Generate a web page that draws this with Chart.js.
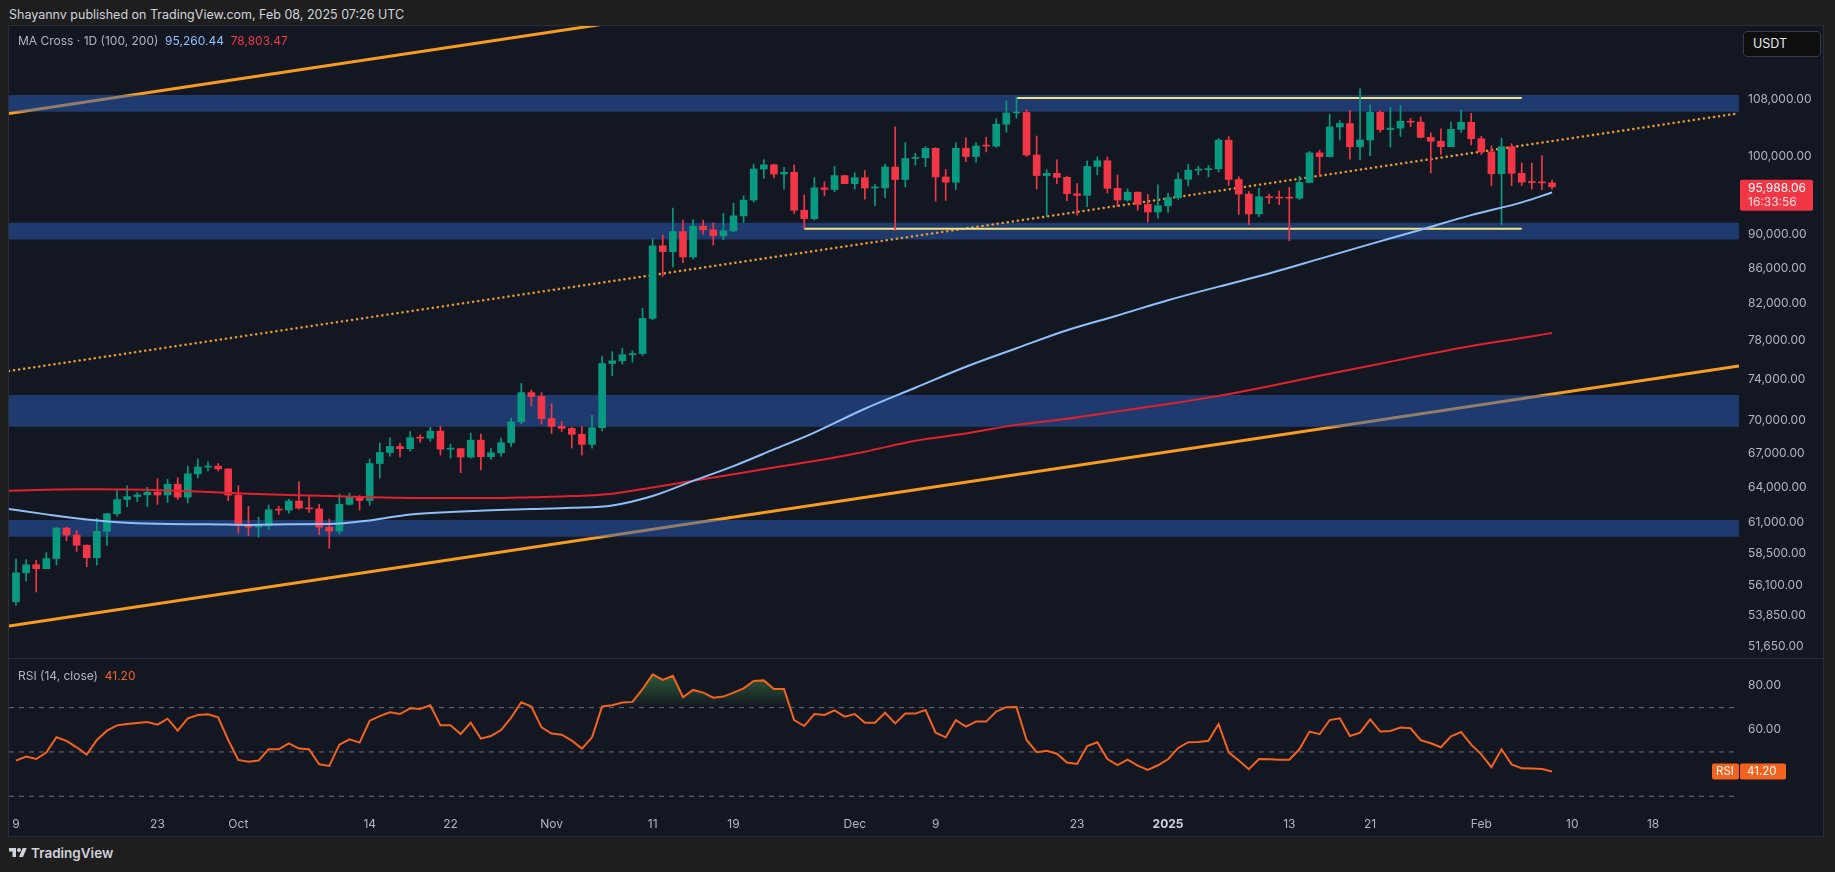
<!DOCTYPE html>
<html lang="en">
<head>
<meta charset="UTF-8">
<title>BTCUSDT 1D - MA Cross and RSI</title>
<script src="https://cdnjs.cloudflare.com/ajax/libs/Chart.js/4.4.1/chart.umd.min.js"></script>
<style>
  html, body { margin: 0; padding: 0; }
  body { width: 1835px; height: 872px; background: #1e1e1e; position: relative; overflow: hidden; font-family: Inter, Roboto, sans-serif; }
  .abs { position: absolute; }
  #header { left: 9px; top: 6px; font-size: 12.5px; line-height: 18px; color: #d1d4dc; }
  #panel { left: 9px; top: 26px; width: 1814px; height: 810px; background: #131722; box-shadow: 0 0 0 1px #2a2e39; }
  #priceCanvas { left: 9px; top: 26px; }
  #sep { left: 9px; top: 658px; width: 1814px; height: 1px; background: #2a2e39; }
  #rsiCanvas { left: 9px; top: 660px; }
  .legend { font-size: 12px; line-height: 16px; color: #b2b5be; white-space: pre; }
  #maLegend { left: 18px; top: 33px; }
  #rsiLegend { left: 18px; top: 668px; }
  #usdt { left: 1743px; top: 31px; width: 78px; height: 26px; box-sizing: border-box; border: 1px solid #363a45; border-radius: 4px; background: #0f0f10; color: #e6e8ee; font-size: 12.5px; line-height: 24px; padding-left: 9px; }
  #logo { left: 9px; top: 845px; display: flex; align-items: center; gap: 4px; color: #d1d4dc; font-size: 13.5px; font-weight: 600; }
</style>
</head>
<body>
  <div id="header" class="abs">Shayannv published on TradingView.com, Feb 08, 2025 07:26 UTC</div>
  <div id="panel" class="abs"></div>
  <canvas id="priceCanvas" class="abs" width="1814" height="632"></canvas>
  <div id="sep" class="abs"></div>
  <canvas id="rsiCanvas" class="abs" width="1814" height="176"></canvas>
  <div id="maLegend" class="abs legend"></div>
  <div id="rsiLegend" class="abs legend"></div>
  <div id="usdt" class="abs">USDT</div>
  <div id="logo" class="abs">
    <svg width="18" height="14" viewBox="0 0 36 28"><path d="M14 22H7V11H0V4h14v18zM28 22h-8l7.5-18h8L28 22z" fill="#d1d4dc"/><circle cx="20" cy="8" r="4" fill="#d1d4dc"/></svg>
    <span>TradingView</span>
  </div>

<script>
// daily candles, Sep 9 2024 (index 0) .. Feb 8 2025 (index 152): [open, high, low, close]
const ohlc = [
  [54841,58088,54591,57019],[57020,58041,56386,57648],[57650,57995,55567,57343],[57343,58588,57324,58128],
  [58128,60625,57632,60571],[60571,60656,59538,60005],[60005,60381,58697,59182],[59182,59210,57493,58192],
  [58192,61366,57610,60309],[60309,61787,59175,61759],[61759,63850,61555,62947],[62947,64133,62350,63201],
  [63201,63559,62758,63348],[63348,64000,62357,63578],[63578,64745,62538,63339],[63339,64688,62700,64262],
  [64262,64817,62947,63152],[63152,65839,62670,65173],[65173,66498,64819,65769],[65769,66260,65422,65858],
  [65858,66076,65432,65602],[65602,65618,62856,63327],
  // Oct
  [63327,64130,60164,60805],[60805,62370,59981,60649],[60649,61469,59828,60753],[60753,62484,60460,62086],
  [62086,62370,61689,62058],[62058,62975,61798,62819],[62819,64478,62128,62224],[62224,63200,61860,62160],
  [62160,62543,60046,60636],[60636,61321,58946,60326],[60326,63417,60087,62540],[62540,63480,62487,63206],
  [63206,63285,62050,62870],[62870,66500,62457,66083],[66083,67950,64800,67074],[67074,68424,66750,67620],
  [67620,67939,66666,67421],[67421,69000,67192,68428],[68428,68693,68010,68378],[68378,69400,68100,69031],
  [69031,69519,66840,67377],[67377,67836,66571,67426],[67426,67472,65260,66668],[66668,68850,66559,68198],
  [68198,68771,65521,66698],[66698,67454,66439,67047],[67047,68380,66751,67967],[67967,70270,67618,69907],
  [69907,73620,69730,72720],[72720,72961,71436,72340],[72340,72700,69686,70216],
  // Nov
  [70216,71632,68820,69482],[69482,69934,69000,69289],[69289,69390,67478,68741],[68741,69450,66835,67811],
  [67811,70522,67459,69359],[69359,76400,69058,75639],[75639,76850,74416,75905],[75905,77200,75560,76538],
  [76538,76932,75774,76649],[76649,81500,76460,80370],[80370,89530,80216,88648],[88648,89940,85072,87952],
  [87952,93265,86127,90375],[90375,91790,86668,87326],[87326,91850,87073,91032],[91032,91779,90056,90586],
  [90586,91449,88722,89855],[89855,92594,89376,90465],[90465,93905,90357,92310],[92310,94831,91500,94286],
  [94286,98988,94040,98317],[98317,99588,97122,98892],[98892,99000,97156,97672],[97672,98564,95734,97900],
  [97900,98871,92600,93010],[93010,94973,90791,91965],[91965,97208,91792,95863],[95863,96650,94827,95643],
  [95643,98694,95366,97460],[97460,97499,96400,96407],
  // Dec
  [96407,97836,95693,97185],[97185,98130,94395,95840],[95840,96305,93578,95849],[95849,99000,94587,98587],
  [98587,104088,90500,96945],[96945,101898,95981,99740],[99740,100439,98844,99831],[99831,101351,98657,101109],
  [101109,101215,94150,97276],[97276,98270,94256,96593],[96593,101888,95658,101125],[101125,102540,99311,100004],
  [100004,101895,99205,101424],[101424,102650,100609,101420],[101420,105250,101237,104463],[104463,107793,103333,106058],
  [106058,108353,105321,106133],[106133,106524,100000,100204],[100204,102800,95700,97462],[97462,98233,92232,97755],
  [97755,99540,96398,97224],[97224,97400,94202,95104],[95104,96416,92403,94884],[94884,99404,93448,98676],
  [98676,99963,97593,99429],[99429,99963,95199,95792],[95792,97544,93500,94299],[94299,95733,94136,95300],
  [95300,95340,93009,93738],[93738,95024,91530,92792],[92792,96250,92033,93576],
  // Jan
  [93576,95151,92743,94591],[94591,97839,94392,96984],[96984,98976,96100,98174],[98174,98734,97562,98236],
  [98236,98813,97291,98363],[98363,102480,97920,102235],[102235,102724,96181,96954],[96954,97307,92500,95060],
  [95060,95382,91203,92552],[92552,95837,92206,94726],[94726,95050,93831,94599],[94599,95450,93712,94545],
  [94545,95940,89256,94536],[94536,97371,94346,96560],[96560,100681,96500,100497],[100497,100866,97335,99987],
  [99987,105865,99950,104077],[104077,104988,102277,104556],[104556,106422,99651,101331],[101331,109588,99550,102260],
  [102260,107240,100119,106143],[106143,106394,103339,103706],[103706,106850,101262,103910],[103910,107120,102750,104870],
  [104870,105286,104106,104746],[104746,105500,102520,102620],[102620,103260,97777,102082],[102082,103800,100272,101335],
  [101335,104782,101328,103734],[103734,106457,103321,104722],[104722,106012,101560,102429],
  // Feb
  [102429,102783,100279,100635],[100635,101456,96150,97700],[97700,102500,91231,101328],[101328,101744,96150,97763],
  [97763,99149,96155,96612],[96612,99120,95676,96554],[96554,100137,95620,96506],[96506,96880,95688,95988.06]
];

// moving averages at these day indexes
const maDays = [-1, 3, 7, 11, 15, 19, 23, 27, 31, 35, 39, 43, 47, 51, 55, 59, 63, 67, 71, 75, 79, 84, 89, 94, 99, 104, 109, 114, 119, 124, 129, 134, 139, 144, 149, 152];
const ma100 = [62180, 61700, 61280, 61000, 60900, 60890, 60830, 60890, 60900, 61200, 61700, 61900, 62040, 62140, 62250, 62450, 63250, 64550, 65850, 67350, 68900, 71150, 73200, 75300, 77200, 79100, 80700, 82370, 83900, 85400, 87100, 88850, 90600, 92400, 94000, 95260.44];
const ma200 = [63690, 63780, 63820, 63810, 63730, 63600, 63450, 63340, 63250, 63140, 63080, 63070, 63070, 63150, 63240, 63450, 63980, 64560, 65140, 65720, 66300, 67150, 68150, 68820, 69620, 70200, 70900, 71600, 72400, 73350, 74400, 75400, 76450, 77450, 78290, 78803.47];

// RSI(14), one value per candle
const rsi = [
  46.1, 47.9, 46.8, 49.7, 56.6, 55.0, 52.1, 48.8, 55.4, 59.6,
  62.0, 62.6, 63.1, 63.5, 62.3, 65.0, 59.6, 65.2, 66.7, 67.0,
  65.6, 55.4, 46.4, 45.6, 46.1, 51.2, 51.2, 53.9, 51.5, 51.2,
  44.4, 43.7, 53.3, 55.7, 54.2, 64.1, 66.2, 67.9, 67.1, 69.7,
  69.4, 71.1, 62.0, 62.0, 58.1, 63.2, 56.0, 57.2, 59.9, 65.5,
  72.4, 70.5, 61.1, 58.3, 57.8, 55.1, 51.5, 56.6, 70.5, 71.1,
  72.3, 72.6, 78.3, 85.0, 82.5, 84.4, 74.7, 78.0, 76.8, 74.5,
  75.0, 76.8, 78.7, 82.0, 82.3, 78.4, 78.4, 64.4, 61.7, 67.1,
  66.7, 68.8, 65.9, 67.1, 63.2, 63.2, 67.7, 62.9, 67.3, 67.3,
  68.9, 58.7, 56.6, 64.3, 61.4, 63.7, 63.7, 68.2, 70.2, 70.3,
  55.4, 49.9, 50.5, 49.2, 45.2, 44.6, 52.7, 54.4, 46.8, 44.1,
  46.5, 43.8, 41.9, 44.0, 46.7, 51.8, 54.4, 54.5, 55.0, 62.6,
  49.8, 46.1, 42.2, 46.8, 46.7, 46.5, 46.5, 51.2, 59.2, 58.0,
  64.4, 65.2, 57.2, 58.7, 64.7, 59.2, 59.5, 61.0, 60.7, 55.3,
  53.9, 52.1, 57.1, 59.0, 53.3, 48.9, 43.1, 51.2, 44.4, 42.6,
  42.5, 42.3, 41.2
];

// drawings: support/resistance zones [bottom, top], channel, range lines
const zones = [[106240, 108660], [89410, 91460], [69450, 72480], [59870, 61230]];
const lowerChannel = [[-0.693, 53070], [170.5, 75380]];
const upperChannel = [[-0.693, 105980], [170.5, 150530]];
const midChannel = [[-0.693, 74870], [170.5, 106010]];
const rangeTop = [[99, 108200], [149, 108200]];
const rangeBottom = [[78, 90700], [149, 90700]];

// axes
const priceTicks = [108000, 100000, 90000, 86000, 82000, 78000, 74000, 70000, 67000, 64000, 61000, 58500, 56100, 53850, 51650];
const rsiTicks = [80, 60];
const rsiLevels = [70, 50, 30];
const timeTickDays = [0, 14, 22, 35, 43, 53, 63, 71, 83, 91, 105, 114, 126, 134, 145, 154, 162];
const timeTickLabels = ['9', '23', 'Oct', '14', '22', 'Nov', '11', '19', 'Dec', '9', '23', '2025', '13', '21', 'Feb', '10', '18'];
const countdown = '16:33:56';

const xMin = -0.693, xMax = 170.5;
const upColor = '#089981', downColor = '#f23645';
const ma100Color = '#90bff9', ma200Color = '#e3202c';
const rsiColor = '#f4631e';
const rangeColor = '#f6e47a';

Chart.defaults.font.family = 'Inter, Roboto, sans-serif';
Chart.defaults.font.size = 12;

const fmt = v => v.toLocaleString('en-US', { minimumFractionDigits: 2, maximumFractionDigits: 2 });
const pts = arr => arr.map(p => ({ x: p[0], y: p[1] }));
const last = ohlc[ohlc.length - 1];

// keep label overflow from shrinking the plot area
const noPad = s => { s.paddingTop = 0; s.paddingBottom = 0; s.paddingLeft = 0; s.paddingRight = 0; };

document.getElementById('maLegend').innerHTML =
  'MA Cross · 1D (100, 200)  <span style="color:' + ma100Color + '">' + fmt(ma100[ma100.length - 1]) +
  '</span>  <span style="color:#f23645">' + fmt(ma200[ma200.length - 1]) + '</span>';
document.getElementById('rsiLegend').innerHTML =
  'RSI (14, close)  <span style="color:' + rsiColor + '">' + rsi[rsi.length - 1].toFixed(2) + '</span>';

const candleColors = ohlc.map(c => c[3] >= c[0] ? upColor : downColor);

const lineBase = { type: 'line', pointRadius: 0, tension: 0, fill: false };

const zoneSets = zones.map(z => Object.assign({}, lineBase, {
  data: pts([[xMin, z[1]], [xMax, z[1]]]),
  borderColor: 'transparent', borderWidth: 0,
  backgroundColor: 'rgba(43,93,186,0.5)',
  fill: { target: { value: z[0] } },
  order: 9
}));

const lastPriceBadge = {
  id: 'lastPriceBadge',
  afterDraw(chart) {
    const { ctx, chartArea, scales: { y } } = chart;
    const py = y.getPixelForValue(last[3]);
    const x = chartArea.right + 1;
    ctx.save();
    ctx.fillStyle = last[3] >= last[0] ? upColor : downColor;
    ctx.beginPath();
    ctx.roundRect(x, py - 7, 73, 31, 2);
    ctx.fill();
    ctx.font = '12px Inter';
    ctx.textBaseline = 'middle';
    ctx.fillStyle = '#ffffff';
    ctx.fillText(fmt(last[3]), x + 8, py + 1.5);
    ctx.fillStyle = 'rgba(255,255,255,0.85)';
    ctx.fillText(countdown, x + 8, py + 15.5);
    ctx.restore();
  }
};

new Chart(document.getElementById('priceCanvas'), {
  type: 'bar',
  data: {
    datasets: [
      Object.assign({}, lineBase, { data: pts(lowerChannel), borderColor: '#f89c1c', borderWidth: 3, order: 10 }),
      Object.assign({}, lineBase, { data: pts(upperChannel), borderColor: '#f89c1c', borderWidth: 3, order: 10 }),
      ...zoneSets,
      Object.assign({}, lineBase, { data: pts(midChannel), borderColor: '#e89a2c', borderWidth: 2.5, borderDash: [0.1, 5], borderCapStyle: 'round', order: 8 }),
      Object.assign({}, lineBase, { data: pts(rangeTop), borderColor: rangeColor, borderWidth: 2, order: 7 }),
      Object.assign({}, lineBase, { data: pts(rangeBottom), borderColor: rangeColor, borderWidth: 2, order: 7 }),
      {
        type: 'bar', data: ohlc.map((c, i) => ({ x: i, y: [c[2], c[1]] })),
        backgroundColor: candleColors, barThickness: 1, grouped: false, order: 3
      },
      {
        type: 'bar', data: ohlc.map((c, i) => ({ x: i, y: [c[0], c[3]] })),
        backgroundColor: candleColors, barThickness: 7, minBarLength: 1, grouped: false, order: 2
      },
      Object.assign({}, lineBase, { data: maDays.map((d, i) => ({ x: d, y: ma200[i] })), borderColor: ma200Color, borderWidth: 2, cubicInterpolationMode: 'monotone', order: 1 }),
      Object.assign({}, lineBase, { data: maDays.map((d, i) => ({ x: d, y: ma100[i] })), borderColor: ma100Color, borderWidth: 2, cubicInterpolationMode: 'monotone', order: 0 })
    ]
  },
  options: {
    responsive: false,
    animation: false,
    events: [],
    layout: { padding: 0, autoPadding: false },
    plugins: { legend: { display: false }, tooltip: { enabled: false } },
    scales: {
      x: { type: 'linear', min: xMin, max: xMax, offset: false, bounds: 'data', display: false },
      y: {
        type: 'logarithmic', position: 'right', min: 50830, max: 119260, bounds: 'data',
        afterBuildTicks: s => { s.ticks = priceTicks.map(v => ({ value: v })); },
        afterFit: s => { s.width = 84; noPad(s); },
        grid: { display: false, drawTicks: false },
        border: { display: false },
        ticks: { color: '#b2b5be', padding: 9, autoSkip: false, callback: v => fmt(v) }
      }
    }
  },
  plugins: [lastPriceBadge]
});

const rsiBadge = {
  id: 'rsiBadge',
  afterDraw(chart) {
    const { ctx, chartArea, scales: { y } } = chart;
    const value = rsi[rsi.length - 1];
    const py = y.getPixelForValue(value);
    const r = chartArea.right;
    ctx.save();
    ctx.fillStyle = rsiColor;
    ctx.beginPath();
    ctx.roundRect(r - 27, py - 8, 27, 16, 2);
    ctx.roundRect(r + 1, py - 8, 46, 16, 2);
    ctx.fill();
    ctx.fillStyle = '#ffffff';
    ctx.font = '11.5px Inter';
    ctx.textBaseline = 'middle';
    ctx.fillText('RSI', r - 23, py + 0.5);
    ctx.fillText(value.toFixed(2), r + 8, py + 0.5);
    ctx.restore();
  }
};

const rsiChart = new Chart(document.getElementById('rsiCanvas'), {
  type: 'line',
  data: {
    datasets: [
      {
        data: rsi.map((v, i) => ({ x: i, y: v })),
        borderColor: rsiColor, borderWidth: 2, pointRadius: 0, tension: 0,
        fill: { target: { value: 70 }, above: 'rgba(76,175,80,0.35)', below: 'rgba(0,0,0,0)' },
        order: 0
      },
      ...rsiLevels.map(v => ({
        data: [{ x: xMin, y: v }, { x: xMax, y: v }],
        borderColor: 'rgba(178,181,190,0.55)', borderWidth: 1, borderDash: [5, 5],
        pointRadius: 0, fill: false, order: 5
      }))
    ]
  },
  options: {
    responsive: false,
    animation: false,
    events: [],
    layout: { padding: 0, autoPadding: false },
    plugins: { legend: { display: false }, tooltip: { enabled: false } },
    scales: {
      x: {
        type: 'linear', min: xMin, max: xMax, offset: false, bounds: 'data',
        afterBuildTicks: s => { s.ticks = timeTickDays.map(v => ({ value: v })); },
        afterFit: s => { s.height = 28; noPad(s); },
        grid: { display: false, drawTicks: false },
        border: { display: false },
        ticks: {
          autoSkip: false, maxRotation: 0, minRotation: 0, padding: 9,
          callback: v => timeTickLabels[timeTickDays.indexOf(v)],
          color: c => (c.tick && c.tick.label === '2025') ? '#d1d4dc' : '#b2b5be',
          font: c => ({ size: 12, weight: (c.tick && c.tick.label === '2025') ? '700' : '400' })
        }
      },
      y: {
        position: 'right', min: 24.7, max: 91.5, bounds: 'data',
        afterBuildTicks: s => { s.ticks = rsiTicks.map(v => ({ value: v })); },
        afterFit: s => { s.width = 84; noPad(s); },
        grid: { display: false, drawTicks: false },
        border: { display: false },
        ticks: { color: '#b2b5be', padding: 9, autoSkip: false, callback: v => v.toFixed(2) }
      }
    }
  },
  plugins: [rsiBadge]
});

// overbought gradient, built from the RSI scale once it exists
const ys = rsiChart.scales.y;
const grad = rsiChart.ctx.createLinearGradient(0, ys.getPixelForValue(100), 0, ys.getPixelForValue(70));
grad.addColorStop(0, 'rgba(76,175,80,0.9)');
grad.addColorStop(1, 'rgba(76,175,80,0)');
rsiChart.data.datasets[0].fill.above = grad;
rsiChart.update();
</script>
</body>
</html>
